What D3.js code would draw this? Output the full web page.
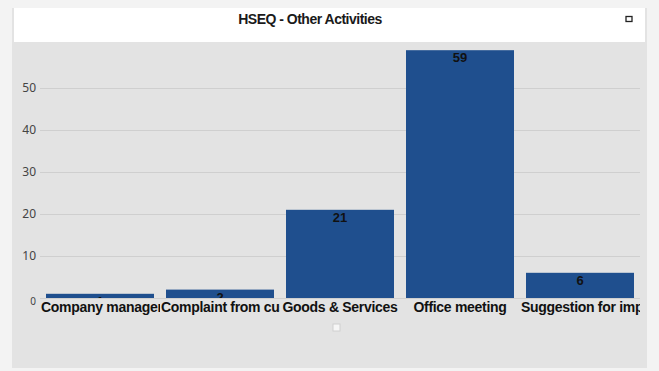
<!DOCTYPE html>
<html>
<head>
<meta charset="utf-8">
<script src="https://cdn.jsdelivr.net/npm/d3@7"></script>
<style>
  body { margin: 0; background: #f4f4f4; }
  svg { display: block; font-family: "Liberation Sans", Arial, sans-serif; }
</style>
</head>
<body>
<svg id="chart"></svg>
<script>
const title = "HSEQ - Other Activities";
const categories = ["Company management", "Complaint from customer", "Goods & Services", "Office meeting", "Suggestion for improvement"];
const values = [1, 2, 21, 59, 6];
const yTicks = [0, 10, 20, 30, 40, 50];

const W = 659, H = 371;
const svg = d3.select("#chart").attr("width", W).attr("height", H);

// outer frame
svg.append("rect").attr("x", 0).attr("y", 0).attr("width", W).attr("height", H).attr("fill", "#f3f3f3");
svg.append("rect").attr("x", 12).attr("y", 8).attr("width", 635).attr("height", 360).attr("fill", "#e3e3e3");
svg.append("rect").attr("x", 14).attr("y", 8).attr("width", 631).attr("height", 34).attr("fill", "#ffffff");

svg.append("text")
  .attr("x", 310).attr("y", 24)
  .attr("text-anchor", "middle")
  .attr("font-size", 14).attr("font-weight", "bold")
  .attr("letter-spacing", -0.5)
  .attr("fill", "#1a1a1a")
  .text(title);

// little window icon
svg.append("rect").attr("x", 626).attr("y", 16.5).attr("width", 6).attr("height", 5)
  .attr("fill", "none").attr("stroke", "#222").attr("stroke-width", 1.3);

const margin = { left: 40, right: 19, top: 42, bottom: 73 };
const x = d3.scaleBand()
  .domain(categories)
  .range([margin.left, W - margin.right])
  .paddingInner(0.1)
  .paddingOuter(0.05);

const y = d3.scaleLinear().domain([0, 60]).range([298, 46]);

const g = svg.append("g");

g.append("g")
  .attr("transform", `translate(${margin.left},0)`)
  .call(d3.axisLeft(y).tickValues(yTicks).tickSize(-(W - margin.right - margin.left)).tickPadding(4))
  .call(a => a.select(".domain").remove())
  .call(a => a.selectAll(".tick line").attr("stroke", "#cfcfcf"))
  .call(a => a.selectAll(".tick text").attr("fill", "#444").attr("font-size", 12)
    .attr("font-family", "'Noto Sans', sans-serif"))
  .call(a => a.selectAll(".tick text").filter(d => d === 0).attr("font-size", 10).attr("dy", "0.6em"));

g.selectAll(".bar")
  .data(values)
  .enter().append("rect")
  .attr("class", "bar")
  .attr("x", (d, i) => x(categories[i]))
  .attr("width", x.bandwidth())
  .attr("y", d => y(d))
  .attr("height", d => y(0) - y(d))
  .attr("fill", "#1f4f8e");

// value labels sit inside the bar top, hidden below the baseline
const defs = svg.append("defs");
defs.append("clipPath").attr("id", "plotClip")
  .append("rect").attr("x", margin.left).attr("y", margin.top)
  .attr("width", W - margin.left - margin.right).attr("height", y(0) - margin.top);

g.append("g").attr("clip-path", "url(#plotClip)")
  .selectAll(".val")
  .data(values)
  .enter().append("text")
  .attr("class", "val")
  .attr("x", (d, i) => x(categories[i]) + x.bandwidth() / 2)
  .attr("y", d => y(d) + 12)
  .attr("text-anchor", "middle")
  .attr("font-size", 13).attr("font-weight", "bold")
  .attr("fill", "#111")
  .text(d => d);

// category labels: centred when they fit, otherwise left aligned and clipped to the band
const slot = d => x(d) - x.step() * x.paddingInner() / 2;
categories.forEach((c, i) => {
  defs.append("clipPath").attr("id", "clip" + i)
    .append("rect")
    .attr("x", slot(c))
    .attr("y", 298)
    .attr("width", x.step())
    .attr("height", 20);
});

g.selectAll(".cat")
  .data(categories)
  .enter().append("text")
  .attr("class", "cat")
  .attr("clip-path", (d, i) => `url(#clip${i})`)
  .attr("y", 312)
  .attr("font-size", 14).attr("font-weight", "bold")
  .attr("letter-spacing", -0.3)
  .attr("fill", "#111")
  .text(d => d)
  .each(function(d) {
    const w = this.getComputedTextLength();
    const left = w < x.step() ? slot(d) + (x.step() - w) / 2 : slot(d) + 1;
    d3.select(this).attr("x", left);
  });

// small scroll marker
svg.append("rect").attr("x", 333).attr("y", 324).attr("width", 7).attr("height", 7)
  .attr("fill", "#f6f6f6").attr("stroke", "#d0d0d0");
</script>
</body>
</html>
